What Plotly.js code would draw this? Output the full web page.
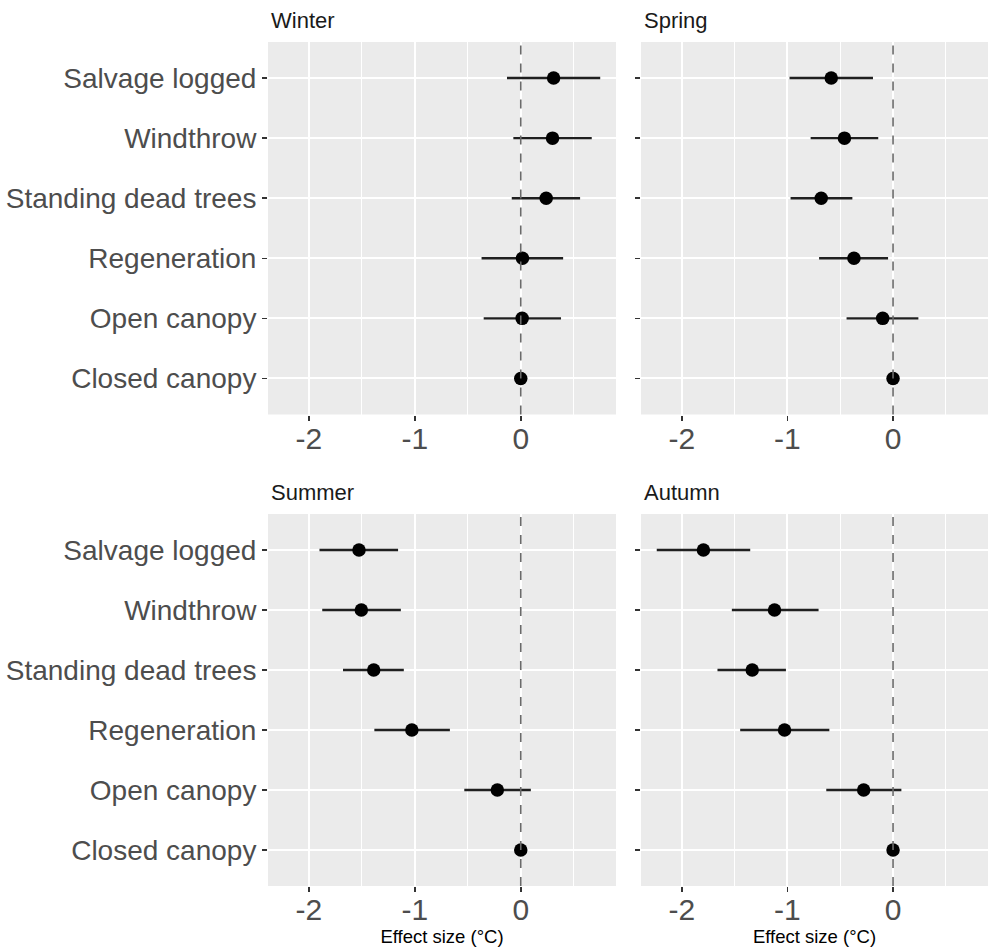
<!DOCTYPE html>
<html>
<head>
<meta charset="utf-8">
<script src="https://cdn.plot.ly/plotly-3.0.1.min.js"></script>
<style>html,body{margin:0;padding:0;background:#fff;}#chart{width:988px;height:947px;}</style>
</head>
<body>
<div id="chart"></div>
<script>
// Categories (bottom to top)
const categories = ["Closed canopy", "Open canopy", "Regeneration", "Standing dead trees", "Windthrow", "Salvage logged"];
const seasons = ["Winter", "Spring", "Summer", "Autumn"];

// Estimates and confidence limits per season, in category order above
const winterEst  = [0, 0.013, 0.016, 0.24, 0.30, 0.31];
const winterLow  = [0, -0.35, -0.37, -0.085, -0.07, -0.13];
const winterHigh = [0, 0.38, 0.40, 0.56, 0.67, 0.75];

const springEst  = [0, -0.098, -0.37, -0.68, -0.46, -0.585];
const springLow  = [0, -0.44, -0.70, -0.97, -0.78, -0.98];
const springHigh = [0, 0.24, -0.047, -0.385, -0.14, -0.19];

const summerEst  = [0, -0.221, -1.028, -1.388, -1.505, -1.527];
const summerLow  = [0, -0.533, -1.382, -1.678, -1.874, -1.90];
const summerHigh = [0, 0.095, -0.669, -1.104, -1.132, -1.158];

const autumnEst  = [0, -0.278, -1.027, -1.333, -1.122, -1.795];
const autumnLow  = [0, -0.632, -1.447, -1.662, -1.526, -2.237];
const autumnHigh = [0, 0.079, -0.603, -1.014, -0.705, -1.352];

const xTickVals = [-2, -1, 0];
const xTickText = ["-2", "-1", "0"];
const xTitle = "Effect size (°C)";

const W = 988, H = 947;
const FONT = "Liberation Sans, Arial, Helvetica, sans-serif";

const panels = [
  {name: seasons[0], est: winterEst, low: winterLow, high: winterHigh, px: [268, 616], py: [42, 414.5], ax: ""},
  {name: seasons[1], est: springEst, low: springLow, high: springHigh, px: [641, 988], py: [42, 414.5], ax: "2"},
  {name: seasons[2], est: summerEst, low: summerLow, high: summerHigh, px: [268, 616], py: [514, 886], ax: "3"},
  {name: seasons[3], est: autumnEst, low: autumnLow, high: autumnHigh, px: [641, 988], py: [514, 886], ax: "4"}
];

const traces = [];
const layout = {
  width: W, height: H,
  margin: {l: 0, r: 0, t: 0, b: 0},
  paper_bgcolor: "#ffffff",
  plot_bgcolor: "#EBEBEB",
  showlegend: false,
  font: {family: FONT, color: "#4D4D4D"},
  shapes: [], annotations: []
};

panels.forEach((p, i) => {
  const xa = "x" + p.ax, ya = "y" + p.ax;
  traces.push({
    type: "scatter", mode: "markers",
    x: p.est, y: categories,
    xaxis: xa, yaxis: ya,
    marker: {color: "#000000", size: 13.5},
    error_x: {
      type: "data", symmetric: false,
      array: p.high.map((h, k) => h - p.est[k]),
      arrayminus: p.est.map((e, k) => e - p.low[k]),
      color: "#1f1f1f", thickness: 2.4, width: 0
    },
    hoverinfo: "x+y"
  });
  const xdom = [p.px[0] / W, p.px[1] / W];
  const ydom = [1 - p.py[1] / H, 1 - p.py[0] / H];
  const bottomRow = i >= 2;
  const leftCol = (i % 2) === 0;
  layout["xaxis" + p.ax] = {
    domain: xdom, anchor: ya,
    range: [-2.386, 0.899],
    tickvals: xTickVals, ticktext: xTickText,
    ticks: "outside", ticklen: 5, tickwidth: 1.5, tickcolor: "#333333",
    ticklabelstandoff: -8,
    tickfont: {size: 30, color: "#4D4D4D", family: FONT},
    showgrid: true, gridcolor: "#ffffff", gridwidth: 2,
    minor: {dtick: 0.5, tick0: -2.5, showgrid: true, gridcolor: "#ffffff", gridwidth: 1, ticks: ""},
    zeroline: false, showline: false, fixedrange: true,
    title: bottomRow ? {text: xTitle, font: {size: 18.5, color: "#000000", family: FONT}, standoff: 0} : {text: ""}
  };
  layout["yaxis" + p.ax] = {
    domain: ydom, anchor: xa,
    type: "category", categoryorder: "array", categoryarray: categories,
    range: [-0.6, 5.6],
    ticks: "outside", ticklen: 5, tickwidth: 1.5, tickcolor: "#333333",
    showticklabels: leftCol,
    tickfont: {size: 28, color: "#4D4D4D", family: FONT},
    showgrid: true, gridcolor: "#ffffff", gridwidth: 2,
    zeroline: false, showline: false, fixedrange: true
  };
  layout.shapes.push({
    type: "line", xref: xa, yref: ya + " domain",
    x0: 0, x1: 0, y0: 0, y1: 1,
    line: {color: "#6a6a6a", width: 1.6, dash: "dash"},
    layer: "above"
  });
  layout.annotations.push({
    text: p.name, xref: "paper", yref: "paper",
    x: (p.px[0] + 1) / W, y: 1 - (p.py[0] - 22) / H,
    xanchor: "left", yanchor: "middle", showarrow: false,
    font: {size: 22, color: "#1A1A1A", family: FONT}
  });
});

Plotly.newPlot("chart", traces, layout, {displayModeBar: false, staticPlot: true});
</script>
</body>
</html>
